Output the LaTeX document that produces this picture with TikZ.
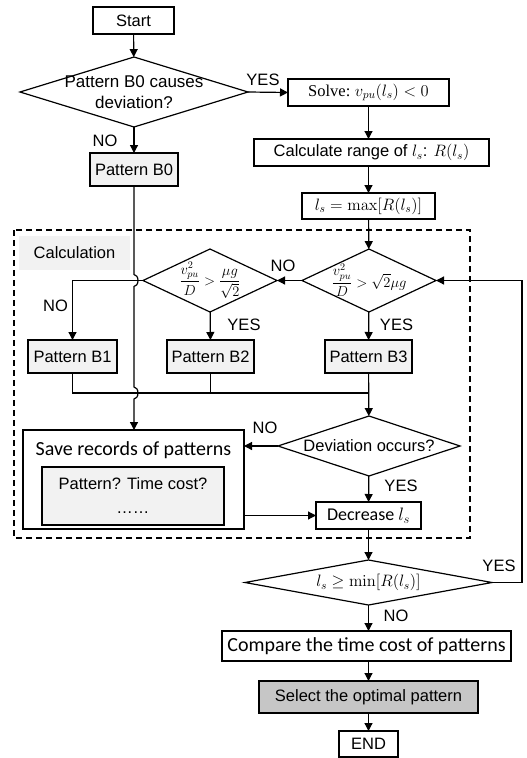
\RequirePackage{fix-cm}
\documentclass[tikz,border=0pt]{standalone}
\usepackage{amsmath,amssymb}
\usepackage[no-math]{fontspec}
\setmainfont{Liberation Sans}
\newfontfamily\calibrifont{Carlito}
\newfontfamily\cambriafont{Liberation Serif}
\usetikzlibrary{arrows.meta,shapes.geometric}

\begin{document}
\begin{tikzpicture}[x=1pt, y=-1pt, line width=1.2pt,
	every node/.style={font=\fontsize{16.5}{20}\selectfont},
	>={Triangle[length=8pt,width=8pt]},
	box/.style={draw, inner sep=0pt, outer sep=0pt, align=center},
	pattern box/.style={box, fill=gray!10, minimum width=88pt, minimum height=33pt},
	decision/.style={draw, shape=diamond, inner sep=0pt, outer sep=0pt},
	calibri/.style={font=\calibrifont\fontsize{#1}{#1}\selectfont},
	frame/.style={dash pattern=on 6pt off 4pt}]
	\useasboundingbox (0,0) rectangle (527,758);
	% upper part
	\node[box, minimum width=81pt, minimum height=27pt] (start) at (133.5,20.5) {Start};
	\node[decision, minimum width=228pt, minimum height=70pt, label={[align=center, font=\fontsize{17}{21}\selectfont]center:Pattern B0 causes\\deviation?}] (d1) at (134,92) {};
	\node[box, minimum width=161pt, minimum height=27pt] (solve) at (368.5,92.5) {{\cambriafont Solve:}\ $v_{pu}(l_s)<0$};
	\node[box, minimum width=235pt, minimum height=27pt] (range) at (371.5,152.5) {Calculate range of $l_s$: $R(l_s)$};
	\node[pattern box] (b0) at (134,169.5) {Pattern B0};
	\node[box, minimum width=133pt, minimum height=26pt] (lmax) at (368.5,206) {$l_s=\max[R(l_s)]$};
	% calculation block
	\draw[frame] (14,230) rectangle (470,538);
	\node[fill=gray!10, inner sep=0pt, minimum width=111pt, minimum height=34pt] (calclabel) at (74.5,253) {Calculation};
	\node[decision, minimum width=134pt, minimum height=63pt, label={[font=\fontsize{14.5}{17}\selectfont]center:$\dfrac{v_{pu}^2}{D}>\sqrt{2}\mu g$}] (d3) at (369,280.5) {};
	\node[decision, minimum width=134pt, minimum height=63pt, label={[font=\fontsize{14.5}{17}\selectfont]center:$\dfrac{v_{pu}^2}{D}>\dfrac{\mu g}{\sqrt{2}}$}] (d2) at (210,280.5) {};
	\node[pattern box, minimum width=89pt] (b1) at (72.5,356.5) {Pattern B1};
	\node[pattern box, minimum width=87pt] (b2) at (210.5,356.5) {Pattern B2};
	\node[pattern box, minimum width=87pt] (b3) at (368.5,356.5) {Pattern B3};
	\coordinate (join) at (368.5,393);
	\node[decision, minimum width=182pt, minimum height=60pt, label={center:Deviation occurs?}] (dev) at (369,446) {};
	\node[box, minimum width=221pt, minimum height=99pt] (save) at (133.5,479.5) {};
	\node[calibri=20] (savetitle) at (133.5,450) {Save records of patterns};
	\node[box, fill=gray!10, minimum width=182pt, minimum height=58pt, font=\fontsize{16.5}{24}\selectfont] (records) at (133,496) {Pattern? Time cost?\\……};
	\node[box, calibri=18, minimum width=105pt, minimum height=27pt] (dec) at (368.5,515.5) {Decrease $l_s$};
	% lower part
	\node[decision, minimum width=247pt, minimum height=45pt, label={center:$l_s\geq\min[R(l_s)]$}] (dmin) at (368.5,582.5) {};
	\node[box, calibri=20, minimum width=289pt, minimum height=30pt] (cmp) at (366.5,646) {Compare the time cost of patterns};
	\node[box, fill=gray!45, minimum width=219pt, minimum height=32pt] (sel) at (368.5,697) {Select the optimal pattern};
	\node[box, minimum width=59pt, minimum height=26pt] (end) at (368.5,744) {END};
	\coordinate (loopx) at (522,0);
	% connectors
	\draw[->] (start) -- (d1);
	\draw[->] (d1.east) -- (solve.west);
	\draw[->] (d1) -- (b0);
	\draw[->] (solve) -- (range.north -| solve);
	\draw[->] (range.south -| lmax) -- (lmax.north);
	\draw[->] (lmax) -- (d3);
	\draw[->] (d3) -- (d2);
	\draw[->] (d2.west) -| (b1.north);
	\draw[->] (d2) -- (b2);
	\draw[->] (d3) -- (b3);
	\draw (b1.south) |- (join);
	\draw (b2.south) -- (b2.south |- join);
	\draw[->] (b3) -- (dev);
	\draw[->] (b0) -- ([yshift=6pt]b0 |- d2) arc[start angle=-90, end angle=90, x radius=4, y radius=6]
		-- ([yshift=6pt]b0 |- join) arc[start angle=-90, end angle=90, x radius=4, y radius=6] -- (b0 |- save.north);
	\draw[->] (dev) -- (save.east |- dev);
	\draw[->] (dev) -- (dec);
	\draw[->] (save.east |- dec) -- (dec.west);
	\draw[->] (dec) -- (dmin);
	\draw[->] (dmin.east) -- (dmin.east -| loopx) |- (d3.east);
	\draw[->] (dmin) -- (cmp.north -| dmin);
	\draw[->] (cmp.south -| sel) -- (sel);
	\draw[->] (sel) -- (end);
	% branch labels
	\node (yes1) at (263,80) {YES};
	\node (no1) at (105,141) {NO};
	\node (no2) at (283,266) {NO};
	\node (no3) at (55.5,306) {NO};
	\node (yes2) at (244,325) {YES};
	\node (yes3) at (396.5,325) {YES};
	\node (no4) at (265,428) {NO};
	\node (yes4) at (401,486) {YES};
	\node (yes5) at (499,566) {YES};
	\node (no5) at (396,616) {NO};
\end{tikzpicture}
\end{document}
